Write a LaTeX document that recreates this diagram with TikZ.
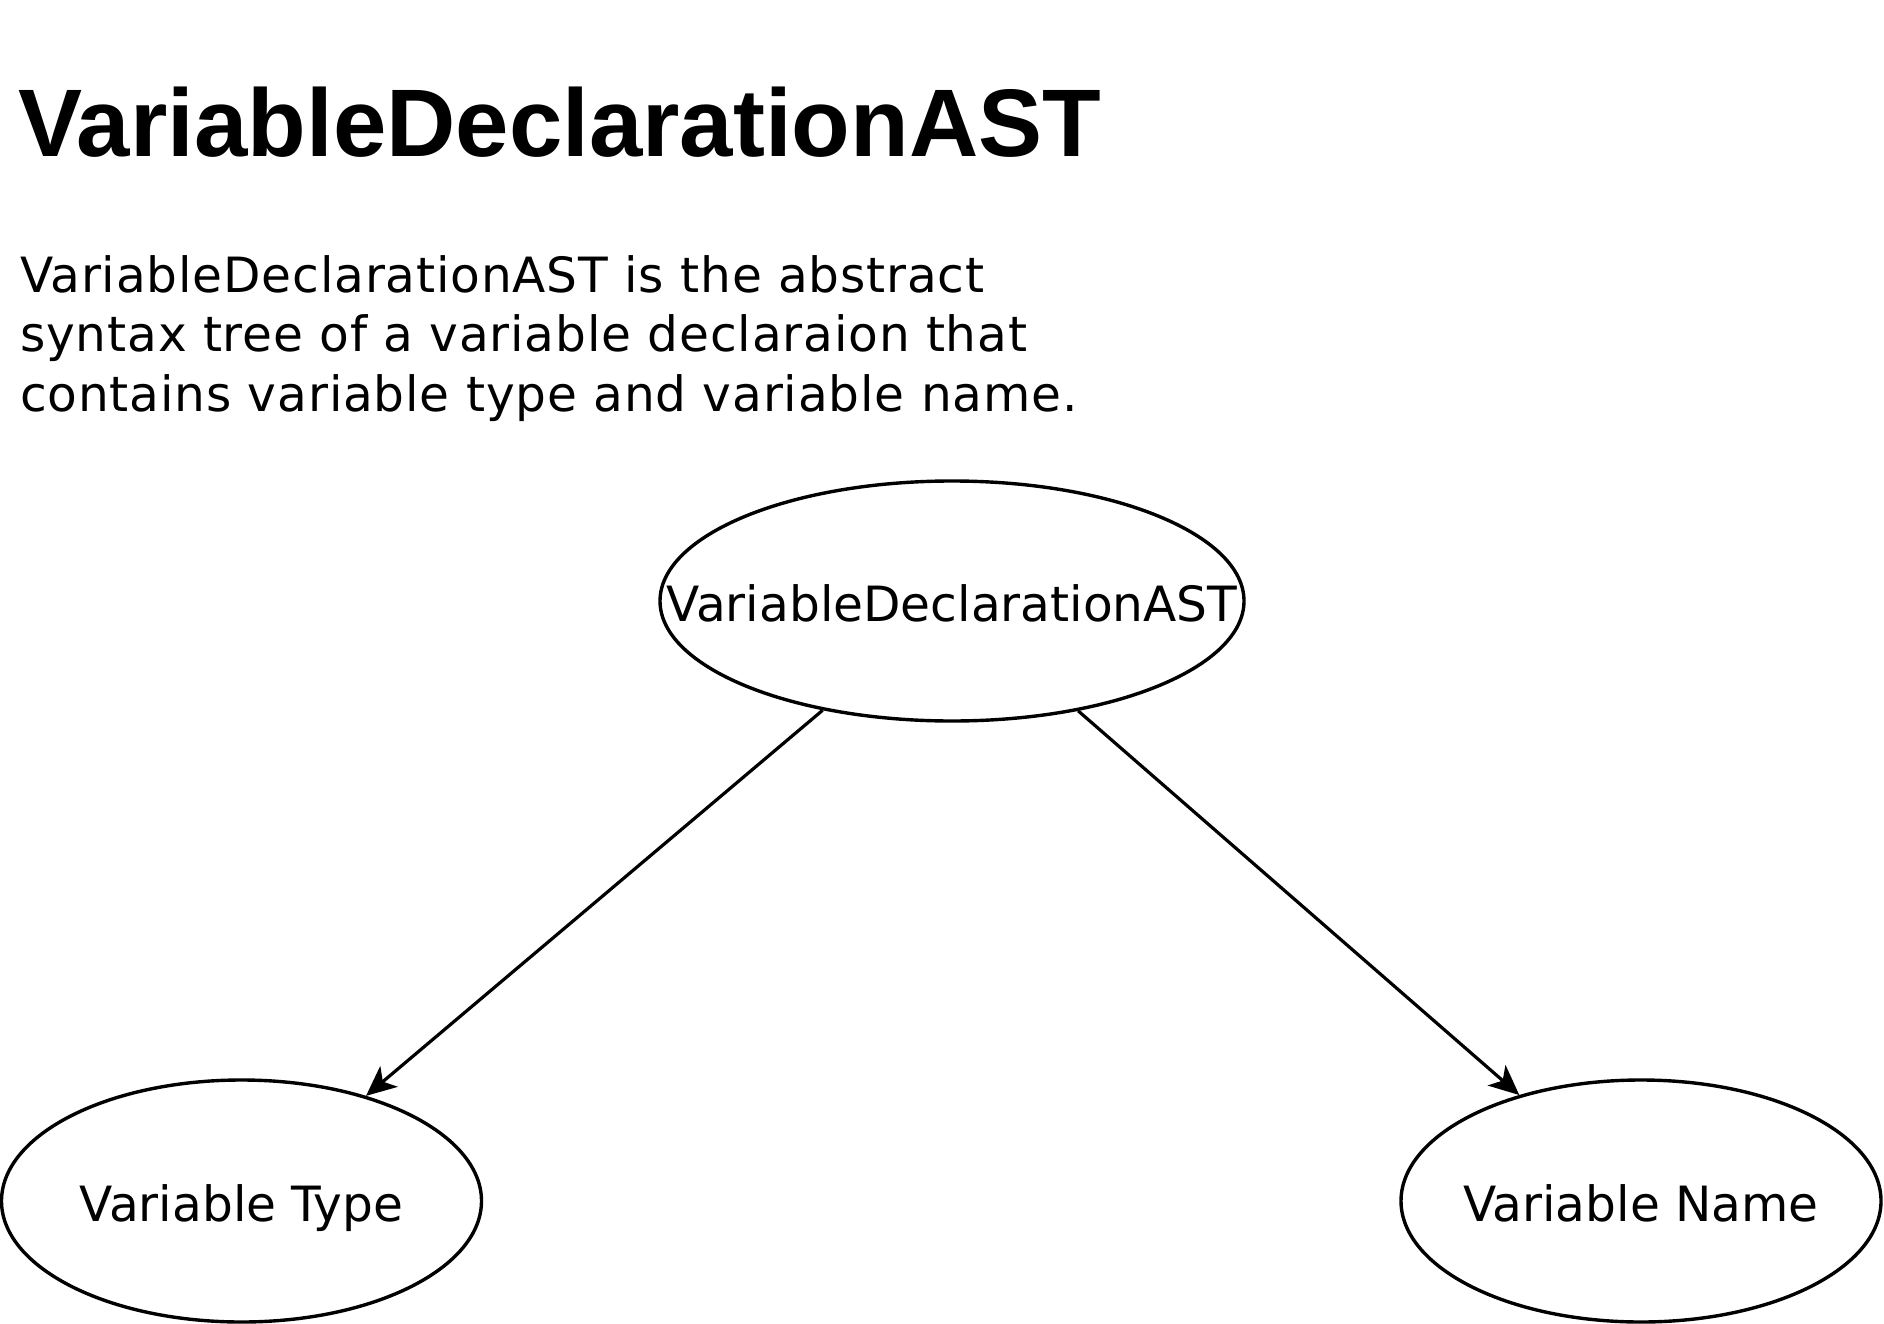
\documentclass[tikz,border=0pt]{standalone}
\usepackage{fontspec}
\setmainfont{DejaVu Sans}
\newfontfamily\titlefont{Liberation Sans}
\newfontfamily\spacedfont[LetterSpace=1.7]{DejaVu Sans}
\usetikzlibrary{shapes.geometric,arrows.meta}
\tikzset{
  astnode/.style={ellipse, draw=black, line width=3.4pt, inner sep=0pt, text height=40pt, text depth=0pt, font=\fontsize{48.6}{58}\selectfont},
  edgearrow/.style={line width=3.2pt, -{Stealth[length=30pt,width=27pt,inset=8pt]}},
  bodytext/.style={inner sep=0pt, align=left, font=\spacedfont\fontsize{48.6}{59.5}\selectfont},
  titletext/.style={inner sep=0pt, font=\titlefont\bfseries\fontsize{96}{110}\selectfont}
}
\begin{document}
\begin{tikzpicture}[x=1pt,y=-1pt]
\useasboundingbox (0,0) rectangle (1884,1324);
\node[titletext, anchor=base west] (title) at (18,157) {VariableDeclarationAST};
\node[bodytext, anchor=base west] (desc) at (20,411) {VariableDeclarationAST is the abstract\\syntax tree of a variable declaraion that\\contains variable type and variable name.};
\node[astnode, minimum width=584pt, minimum height=240pt] (root) at (952,601) {\makebox[0pt]{VariableDeclarationAST}};
\node[astnode, minimum width=480pt, minimum height=242pt] (vtype) at (241.5,1201) {\makebox[0pt]{Variable Type}};
\node[astnode, minimum width=480pt, minimum height=242pt] (vname) at (1641,1201) {\makebox[0pt]{Variable Name}};
\draw[edgearrow] (root) -- (vtype);
\draw[edgearrow] (root) -- (vname);
\end{tikzpicture}
\end{document}
